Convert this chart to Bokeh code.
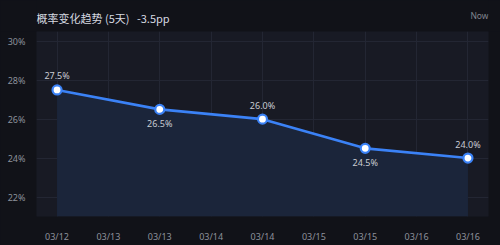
import pandas as pd
from bokeh.plotting import figure
from bokeh.layouts import column
from bokeh.models import (FixedTicker, DatetimeTickFormatter, Range1d, Label,
                          ColumnDataSource, PrintfTickFormatter)
from bokeh.embed import file_html
from bokeh.resources import INLINE

# Daily probability readings (percent), sampled at noon
dates = ["2025-03-12 12:00", "2025-03-13 12:00", "2025-03-14 12:00",
         "2025-03-15 12:00", "2025-03-16 12:00"]
probability = [27.5, 26.5, 26.0, 24.5, 24.0]
y_ticks = [22, 24, 26, 28, 30]
title_text = "概率变化趋势 (5天)"
change_text = "-3.5pp"
corner_text = "Now"

BG = "#111218"
PANEL = "#181a24"
AREA = "#1b253a"
LINE = "#3b82f6"
GRID = "#232633"
TICK_TXT = "#8d919b"
LABEL_TXT = "#c9ccd3"

W, HEAD_H, BODY_H = 500, 31, 214
PAD_L, PAD_R = 36, 12
FRAME_W = W - PAD_L - PAD_R

# --- header strip: title on the left, "Now" on the right ---
# the column layout lines this strip's frame up with the chart's frame below
head = figure(width=W, height=HEAD_H, output_backend="svg", toolbar_location=None,
              x_range=Range1d(0, FRAME_W), y_range=Range1d(0, HEAD_H),
              min_border_left=PAD_L, min_border_right=PAD_R,
              min_border_top=0, min_border_bottom=0, outline_line_color=None)
head.axis.visible = False
head.grid.visible = False
head.background_fill_color = BG
head.border_fill_color = BG
head.styles = {"background-color": BG}
head.add_layout(Label(x=0, y=HEAD_H - 17, x_units="screen", y_units="screen",
                      text=title_text + "\u00a0\u00a0\u00a0" + change_text,
                      text_font="Noto Sans CJK SC", text_font_size="11px",
                      text_color="#d6d9e0", text_baseline="middle"))
head.add_layout(Label(x=FRAME_W, y=HEAD_H - 15, x_units="screen", y_units="screen",
                      text=corner_text, text_align="right",
                      text_font="Noto Sans", text_font_size="8.5px",
                      text_color="#80848e", text_baseline="middle"))

# --- main chart ---
x = pd.to_datetime(dates)
day = pd.Timedelta(days=1)
pad = 0.2 * day
y_floor = min(probability) - 3
y_ceil = max(probability) + 3

src = ColumnDataSource(dict(
    x=x,
    y=probability,
    base=[y_floor] * len(probability),
    label=[f"{v:.1f}%" for v in probability],
    off=[-14 if i % 2 == 0 else 14 for i in range(len(probability))],
))

p = figure(width=W, height=BODY_H, output_backend="svg", toolbar_location=None,
           x_axis_type="datetime",
           x_range=Range1d(x[0] - pad, x[-1] + pad),
           y_range=Range1d(y_floor, y_ceil),
           min_border_left=PAD_L, min_border_right=PAD_R,
           min_border_top=0, min_border_bottom=28)
p.background_fill_color = PANEL
p.border_fill_color = BG
p.outline_line_color = None
p.styles = {"background-color": BG}

# half-day ticks across the span of the data
half_days = pd.date_range(x[0], x[-1], freq="12h")
p.xaxis.ticker = FixedTicker(ticks=[t.value // 10**6 for t in half_days])
fmt = "%m/%d"
p.xaxis.formatter = DatetimeTickFormatter(
    milliseconds=fmt, seconds=fmt, minsec=fmt, minutes=fmt, hourmin=fmt,
    hours=fmt, days=fmt, months=fmt, years=fmt)
p.yaxis.ticker = FixedTicker(ticks=y_ticks)
p.yaxis.formatter = PrintfTickFormatter(format="%d%%")

for ax in (p.xaxis, p.yaxis):
    ax.axis_line_color = None
    ax.major_tick_line_color = None
    ax.minor_tick_line_color = None
    ax.major_label_text_color = TICK_TXT
    ax.major_label_text_font = "Noto Sans"
    ax.major_label_text_font_size = "9px"
p.xaxis.major_label_standoff = 7
p.yaxis.major_label_standoff = 5

p.grid.grid_line_color = GRID
p.grid.grid_line_width = 1

p.varea(x="x", y1="base", y2="y", source=src, fill_color=AREA, fill_alpha=1)
p.line(x="x", y="y", source=src, line_color=LINE, line_width=2.6)
p.scatter(x="x", y="y", source=src, size=9, fill_color="white",
          line_color=LINE, line_width=2.2)
p.text(x="x", y="y", text="label", source=src, y_offset="off",
       text_align="center", text_baseline="middle",
       text_color=LABEL_TXT, text_font_size="9px",
       text_font={"value": "Noto Sans"})

layout = column(head, p, spacing=0)
layout.styles = {"background-color": BG}

open("out.html", "w").write(file_html(layout, INLINE))
